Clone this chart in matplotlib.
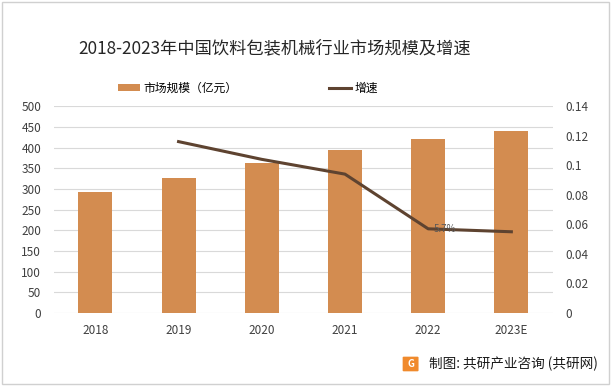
import matplotlib.pyplot as plt
from matplotlib.patches import Rectangle, FancyBboxPatch
import numpy as np

plt.rcParams['font.family'] = ['Noto Sans CJK SC', 'DejaVu Sans']

years = ['2018', '2019', '2020', '2021', '2022', '2023E']
market = [292, 326, 362, 394, 420, 440]
growth_years = ['2019', '2020', '2021', '2022', '2023E']
growth = [0.116, 0.104, 0.094, 0.057, 0.055]

bar_color = '#D38C50'
line_color = '#5E4330'

fig = plt.figure(figsize=(6.11, 3.86), dpi=100)
ax = fig.add_axes([0.088, 0.189, 0.817, 0.536])
x = np.arange(len(years))
ax.bar(x, market, width=0.41, color=bar_color, label='市场规模（亿元）', zorder=2)
ax.set_ylim(0, 500)
ax.set_yticks(range(0, 501, 50))
ax.set_xlim(-0.5, len(years) - 0.5)
ax.set_xticks(x)
ax.set_xticklabels(years)
ax.grid(axis='y', color='#D9D9D9', linewidth=0.8, zorder=0)
for s in ax.spines.values():
    s.set_visible(False)
ax.tick_params(length=0, labelsize=8.5, colors='#404040')
ax.tick_params(axis='x', pad=8)
ax.tick_params(axis='y', pad=9)

ax2 = ax.twinx()
gx = [years.index(y) for y in growth_years]
ax2.plot(gx, growth, color=line_color, linewidth=2.2, label='增速', zorder=3)
ax2.set_ylim(0, 0.14)
ax2.set_yticks([0, 0.02, 0.04, 0.06, 0.08, 0.1, 0.12, 0.14])
ax2.set_yticklabels(['0', '0.02', '0.04', '0.06', '0.08', '0.1', '0.12', '0.14'])
for s in ax2.spines.values():
    s.set_visible(False)
ax2.tick_params(length=0, labelsize=8.5, colors='#404040', pad=9)
ax2.annotate('5.7%', (gx[3], growth[3]), xytext=(4, 0), textcoords='offset points',
             fontsize=7, color='#595959', va='center')

fig.text(0.449, 0.875, '2018-2023年中国饮料包装机械行业市场规模及增速', ha='center', va='center',
         fontsize=12.4, color='#262626')

h1, l1 = ax.get_legend_handles_labels()
h2, l2 = ax2.get_legend_handles_labels()
fig.legend(h1 + h2, l1 + l2, loc='center', bbox_to_anchor=(0.406, 0.772), ncol=2,
           frameon=False, fontsize=8.5, columnspacing=7.8, handlelength=1.8,
           handleheight=0.6, handletextpad=0.3)

# footer
icon = FancyBboxPatch((0.661, 0.040), 0.022, 0.034, boxstyle='round,pad=0.002',
                      transform=fig.transFigure, facecolor='#F08A2C', edgecolor='none')
fig.patches.append(icon)
fig.text(0.672, 0.057, 'G', ha='center', va='center', color='white', fontsize=7,
         fontweight='bold')
fig.text(0.702, 0.057, '制图: 共研产业咨询 (共研网)', ha='left', va='center',
         fontsize=9.8, color='#1A1A1A')

fig.patches.append(Rectangle((0.004, 0.006), 0.992, 0.988, transform=fig.transFigure,
                             fill=False, edgecolor='#D0D0D0', linewidth=1))

fig.savefig('out.png', dpi=100)
